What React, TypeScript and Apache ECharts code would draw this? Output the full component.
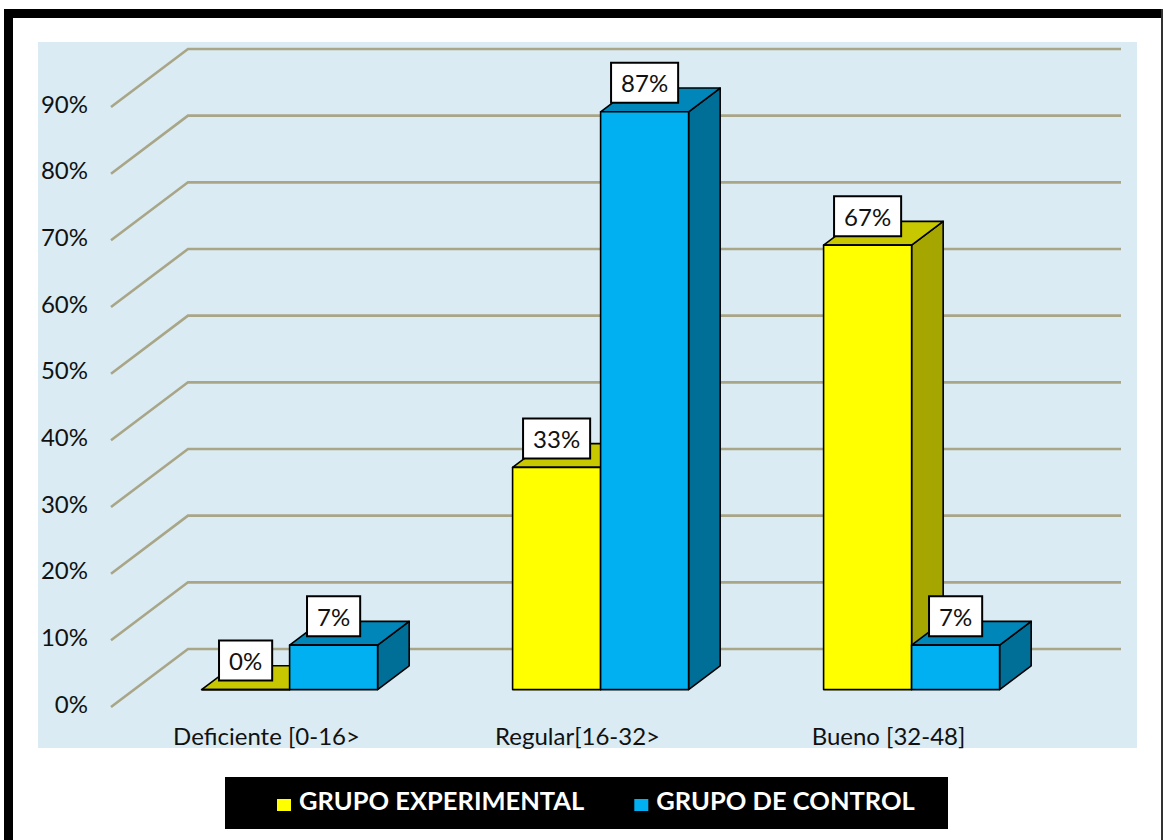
import React, { useEffect, useRef } from "react";
import * as echarts from "echarts";

// ---- data ----
const CATEGORIES = ["Deficiente [0-16>", "Regular[16-32>", "Bueno [32-48]"];
const SERIES_NAMES = ["GRUPO EXPERIMENTAL", "GRUPO DE CONTROL"];
const EXPERIMENTAL = [0, 33.33, 66.67];
const CONTROL = [6.67, 86.67, 6.67];
const Y_TICKS = [0, 10, 20, 30, 40, 50, 60, 70, 80, 90];

// ---- style ----
const FONT = "Lato, 'Open Sans', sans-serif";
const DEPTH_X = 77;
const DEPTH_Y = -58;
const BAR_PLANE = 0.3;
const BAR_DEPTH = 0.41;
const BAR_WIDTH_RATIO = 88 / 311;
const GRID_COLOR = "#A9A688";

const PALETTES = [
  { front: "#FFFF00", top: "#C8C800", side: "#A6A600" },
  { front: "#00B0F0", top: "#0086B8", side: "#006F98" },
];

function barRenderer(slot: number) {
  const pal = PALETTES[slot];
  return (params: any, api: any) => {
    const cat = api.value(0);
    const val = api.value(1);
    const base = api.coord([cat, 0]);
    const top = api.coord([cat, val]);
    const band = api.size([1, 0])[0];
    const w = band * BAR_WIDTH_RATIO;
    const ox = DEPTH_X * BAR_PLANE;
    const oy = DEPTH_Y * BAR_PLANE;
    const bx = DEPTH_X * BAR_DEPTH;
    const by = DEPTH_Y * BAR_DEPTH;
    const x0 = base[0] + ox + (slot - 1) * w;
    const x1 = x0 + w;
    const yb = base[1] + oy;
    const yt = top[1] + oy;
    const stroke = { stroke: "#000", lineWidth: 1.6, lineJoin: "round" };
    const children: any[] = [
      {
        type: "polygon",
        shape: { points: [[x1, yt], [x1, yb], [x1 + bx, yb + by], [x1 + bx, yt + by]] },
        style: { fill: pal.side, ...stroke },
      },
      {
        type: "polygon",
        shape: { points: [[x0, yt], [x1, yt], [x1 + bx, yt + by], [x0 + bx, yt + by]] },
        style: { fill: pal.top, ...stroke },
      },
    ];
    if (yb - yt > 0.5) {
      children.push({
        type: "rect",
        shape: { x: x0, y: yt, width: w, height: yb - yt },
        style: { fill: pal.front, ...stroke },
      });
    } else {
      children.push({
        type: "line",
        shape: { x1: x0, y1: yb, x2: x1, y2: yb },
        style: { ...stroke },
      });
    }
    children.push({
      type: "text",
      x: (x0 + x1) / 2,
      y: yt - 29,
      z2: 100,
      style: {
        text: Math.round(val) + "%",
        align: "center",
        verticalAlign: "middle",
        fill: "#111",
        fontSize: 24,
        fontFamily: FONT,
        lineHeight: 28,
        backgroundColor: "#fff",
        borderColor: "#000",
        borderWidth: 2,
        padding: [5, 9, 5, 9],
      },
    });
    return { type: "group", children };
  };
}

function gridRenderer(params: any, api: any) {
  const cs = params.coordSys;
  const y = api.coord([0, api.value(1)])[1];
  const x = cs.x;
  return {
    type: "polyline",
    silent: true,
    shape: {
      points: [
        [x, y],
        [x + DEPTH_X, y + DEPTH_Y],
        [cs.x + cs.width + DEPTH_X, y + DEPTH_Y],
      ],
    },
    style: { stroke: GRID_COLOR, lineWidth: 2.6, fill: null },
  };
}

export default function App() {
  const ref = useRef<HTMLDivElement>(null);
  useEffect(() => {
    if (!ref.current) return;
    const chart = echarts.init(ref.current, undefined, { renderer: "svg" });
    const option: any = {
      animation: false,
      backgroundColor: "#fff",
      graphic: {
        elements: [
          { type: "rect", z: -10, shape: { x: 38, y: 42, width: 1099, height: 706 }, style: { fill: "#DAEBF3" } },
          { type: "rect", z: -10, shape: { x: 4, y: 9, width: 1159, height: 9 }, style: { fill: "#000" } },
          { type: "rect", z: -10, shape: { x: 4, y: 9, width: 9, height: 831 }, style: { fill: "#000" } },
          { type: "rect", z: -10, shape: { x: 1161, y: 9, width: 2, height: 831 }, style: { fill: "#333" } },
          { type: "rect", z: -10, shape: { x: 225, y: 777, width: 723, height: 52 }, style: { fill: "#000" } },
        ],
      },
      legend: {
        data: SERIES_NAMES,
        left: 277,
        top: 787,
        padding: 0,
        itemGap: 50,
        itemWidth: 14,
        itemHeight: 22,
        icon: "path://M0,0M0,10h14v12h-14z",
        selectedMode: false,
        textStyle: {
          color: "#fff",
          fontWeight: "bold",
          fontSize: 25.5,
          lineHeight: 22,
          fontFamily: FONT,
          padding: [0, 0, 0, 3],
        },
      },
      grid: { left: 111, top: 107, width: 933, height: 600 },
      xAxis: {
        type: "category",
        data: CATEGORIES,
        axisLine: { show: false },
        axisTick: { show: false },
        axisLabel: { fontSize: 24, fontFamily: FONT, color: "#111", margin: 16 },
      },
      yAxis: {
        type: "value",
        min: Y_TICKS[0],
        max: Y_TICKS[Y_TICKS.length - 1],
        interval: Y_TICKS[1] - Y_TICKS[0],
        axisLine: { show: false },
        axisTick: { show: false },
        splitLine: { show: false },
        axisLabel: {
          formatter: "{value}%",
          fontSize: 24,
          fontFamily: FONT,
          color: "#111",
          margin: 23,
          verticalAlign: "bottom",
          lineHeight: 8,
        },
      },
      series: [
        {
          type: "custom",
          name: "grid",
          silent: true,
          z: 1,
          renderItem: gridRenderer,
          data: Y_TICKS.map((t) => [0, t]),
        },
        {
          type: "custom",
          name: SERIES_NAMES[0],
          z: 3,
          itemStyle: { color: PALETTES[0].front },
          renderItem: barRenderer(0),
          data: EXPERIMENTAL.map((v, i) => [i, v]),
        },
        {
          type: "custom",
          name: SERIES_NAMES[1],
          z: 3,
          itemStyle: { color: PALETTES[1].front },
          renderItem: barRenderer(1),
          data: CONTROL.map((v, i) => [i, v]),
        },
      ],
    };
    chart.setOption(option);
    return () => chart.dispose();
  }, []);
  return (
    <div
      ref={ref}
      style={{ position: "absolute", left: 0, top: 0, width: 1163, height: 840 }}
    />
  );
}
